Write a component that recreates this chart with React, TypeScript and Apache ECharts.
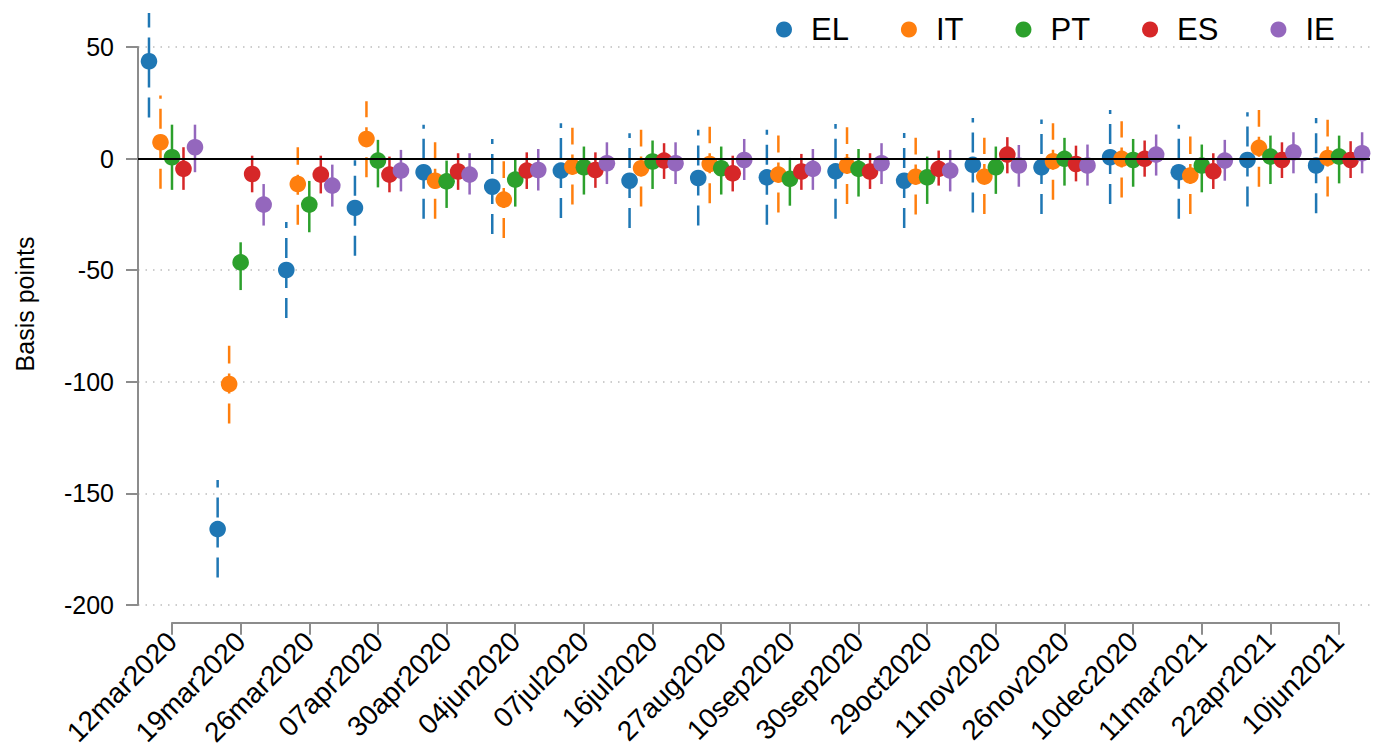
import React, { useEffect, useRef } from "react";
import * as echarts from "echarts";

const dates = [
  "12mar2020", "19mar2020", "26mar2020", "07apr2020", "30apr2020", "04jun2020",
  "07jul2020", "16jul2020", "27aug2020", "10sep2020", "30sep2020", "29oct2020",
  "11nov2020", "26nov2020", "10dec2020", "11mar2021", "22apr2021", "10jun2021",
];

const countries = ["EL", "IT", "PT", "ES", "IE"];

const elEst = [43.6, -166, -49.9, -22.1, -6.1, -12.6, -5.4, -9.9, -8.7, -8.4, -5.7, -9.9, -2.8, -3.9, 0.6, -6.1, -0.6, -3.1];
const elLo = [18.4, -187.7, -71.4, -43.5, -27, -33.8, -26.6, -31.1, -30, -29.6, -27, -31.1, -24.1, -24.8, -20.3, -27, -21.5, -24.5];
const elHi = [65.2, -144, -28.4, -0.7, 15.2, 8.8, 15.8, 11.4, 12.9, 12.9, 15.5, 11.5, 18.2, 17.5, 21.8, 15.2, 20.8, 18.2];

const itEst = [7.3, -101, -11.4, 8.8, -9.9, -18.4, -3.6, -4.3, -2.4, -7.2, -3.1, -8.1, -8.1, -1.2, -0.1, -7.6, 4.8, 0.3];
const itLo = [-13.5, -118.7, -29.6, -8.4, -27, -35.6, -20.6, -21.5, -20, -24.1, -20.3, -25.1, -24.8, -18.4, -17.4, -24.8, -12.6, -17];
const itHi = [28.3, -83.9, 5.1, 25.7, 7.3, -1.2, 13.8, 12.9, 14.3, 10.3, 14, 9.3, 9.3, 15.8, 16.7, 9.9, 21.8, 17.4];

const ptEst = [0.6, -46.5, -20.6, -0.9, -10.2, -9.4, -3.9, -1.3, -4.3, -9.1, -4.6, -8.4, -3.9, -0.1, -0.6, -3.1, 0.9, 0.9];
const ptLo = [-14, -58.9, -33, -12.9, -22.1, -21.5, -16.1, -13.6, -16.1, -21.1, -17, -20.3, -15.8, -12.1, -12.6, -15.1, -11.4, -11.1];
const ptHi = [15.2, -37.5, -10, 8.4, -0.9, -0.1, 5.4, 8.1, 5.4, 0.3, 4.3, 0.9, 5.4, 9.3, 8.8, 6.3, 10.3, 10.3];

const esEst = [-4.6, -6.9, -7.2, -7.2, -5.8, -5.4, -5.1, -0.9, -6.6, -5.8, -5.8, -4.6, 1.8, -2.4, -0.1, -5.7, -0.6, -0.6];
const esLo = [-14, -15.1, -15.6, -15.1, -14, -13.6, -13.1, -9.1, -14.7, -14, -13.6, -12.1, -6.6, -10.2, -8.1, -13.6, -8.7, -8.7];
const esHi = [5.1, 1.3, 1.3, 0.9, 2.4, 2.8, 2.8, 6.9, 1.3, 2.1, 2.4, 3.6, 9.6, 5.8, 8.1, 2.4, 7.3, 7.8];

const ieEst = [5.1, -20.6, -12.1, -5.4, -7.2, -5.1, -2.1, -2.1, -0.6, -4.6, -2.1, -5.4, -3.1, -3.1, 1.8, -0.9, 2.8, 2.4];
const ieLo = [-6.1, -30, -21.5, -14.7, -16.1, -14.3, -11.4, -11.4, -9.6, -14, -11.4, -14.7, -12.6, -12.1, -7.6, -9.9, -6.6, -6.6];
const ieHi = [15.2, -11.4, -2.7, 3.9, 2.4, 4.3, 7.3, 7.3, 8.8, 4.3, 6.9, 3.9, 6.1, 6.3, 10.8, 8.4, 11.8, 11.8];

const yTicks = [-200, -150, -100, -50, 0, 50];

const COLORS = ["#1f77b4", "#ff7f0e", "#2ca02c", "#d62728", "#9467bd"];
const DASHES: (number[] | null)[] = [[20, 10], [20, 10], null, null, null];
const OFFSETS = [-0.335, -0.1675, 0, 0.1675, 0.335];

const seriesValues = [
  [elEst, elLo, elHi],
  [itEst, itLo, itHi],
  [ptEst, ptLo, ptHi],
  [esEst, esLo, esHi],
  [ieEst, ieLo, ieHi],
];

const FONT = "Liberation Sans, Arial, Helvetica, sans-serif";

function makeRenderItem(color: string, dash: number[] | null, offset: number) {
  return (params: any, api: any) => {
    const x = api.value(0) + offset;
    const pEst = api.coord([x, api.value(1)]);
    const pLo = api.coord([x, api.value(2)]);
    const pHi = api.coord([x, api.value(3)]);
    const lineStyle: any = { stroke: color, lineWidth: 2.5 };
    if (dash) lineStyle.lineDash = dash;
    return {
      type: "group",
      children: [
        { type: "line", shape: { x1: pLo[0], y1: pLo[1], x2: pHi[0], y2: pHi[1] }, style: lineStyle },
        { type: "circle", shape: { cx: pEst[0], cy: pEst[1], r: 8.3 }, style: { fill: color } },
      ],
    };
  };
}

export default function App() {
  const ref = useRef<HTMLDivElement>(null);
  useEffect(() => {
    if (!ref.current) return;
    const chart = echarts.init(ref.current, undefined, { renderer: "svg" });
    const custom = countries.map((name, k) => {
      const [est, lo, hi] = seriesValues[k];
      return {
        name,
        type: "custom",
        xAxisIndex: 0,
        yAxisIndex: 0,
        clip: false,
        z: 3,
        itemStyle: { color: COLORS[k] },
        encode: { x: 0, y: 1 },
        data: dates.map((_, i) => [i, est[i], lo[i], hi[i]]),
        renderItem: makeRenderItem(COLORS[k], DASHES[k], OFFSETS[k]),
      };
    });
    const option: any = {
      animation: false,
      color: COLORS,
      textStyle: { fontFamily: FONT },
      grid: [
        { left: 138, right: 5, top: 47, bottom: 144 },
        { left: 172, right: 36, top: 47, bottom: 144 },
      ],
      legend: {
        data: countries,
        left: 771,
        top: 9,
        itemGap: 52,
        icon: "circle",
        itemWidth: 16,
        itemHeight: 16,
        textStyle: { fontSize: 31, color: "#000", fontFamily: FONT, padding: [0, 0, 0, 14] },
      },
      xAxis: [
        { gridIndex: 0, type: "value", min: -0.495, max: 17.45, show: false },
        {
          gridIndex: 1,
          type: "category",
          data: dates,
          boundaryGap: false,
          offset: 23,
          axisLine: { show: true, onZero: false, lineStyle: { color: "#8c8c8c", width: 2 } },
          axisTick: { show: true, length: 12, interval: 0, lineStyle: { color: "#8c8c8c", width: 2 } },
          axisLabel: { rotate: 45, interval: 0, fontSize: 28, color: "#000", margin: 14, fontFamily: FONT },
          splitLine: { show: false },
        },
      ],
      yAxis: [
        {
          gridIndex: 0,
          type: "value",
          min: yTicks[0],
          max: yTicks[yTicks.length - 1],
          interval: 50,
          axisLine: { show: true, onZero: false, lineStyle: { color: "#8c8c8c", width: 2 } },
          axisTick: { show: true, length: 12, lineStyle: { color: "#8c8c8c", width: 2 } },
          axisLabel: { fontSize: 25, color: "#000", margin: 24, fontFamily: FONT },
          splitLine: { show: true, lineStyle: { color: "#bdbdbd", width: 1.5, type: [1.5, 6] } },
        },
        { gridIndex: 1, type: "value", min: -200, max: 50, show: false },
      ],
      graphic: [
        {
          type: "text",
          x: 25,
          y: 304,
          rotation: Math.PI / 2,
          style: {
            text: "Basis points",
            fontSize: 25,
            fill: "#000",
            fontFamily: FONT,
            textAlign: "center",
            textVerticalAlign: "middle",
          },
        },
      ],
      series: [
        {
          type: "line",
          name: "zero",
          xAxisIndex: 0,
          yAxisIndex: 0,
          data: [],
          z: 1,
          silent: true,
          markLine: {
            silent: true,
            symbol: ["none", "none"],
            label: { show: false },
            lineStyle: { color: "#000", width: 2, type: "solid" },
            data: [{ yAxis: 0 }],
          },
        },
        ...custom,
      ],
    };
    chart.setOption(option);
    return () => chart.dispose();
  }, []);
  return (
    <div
      ref={ref}
      style={{ position: "fixed", left: 0, top: 0, width: 1375, height: 749, background: "#fff" }}
    />
  );
}
